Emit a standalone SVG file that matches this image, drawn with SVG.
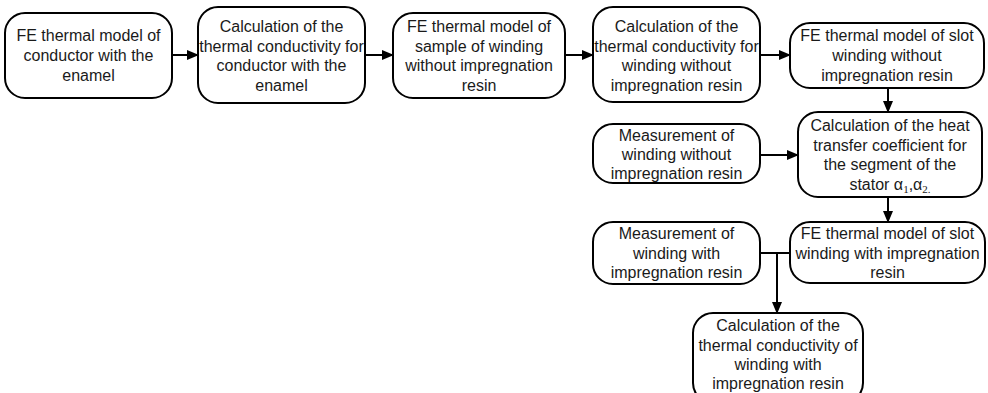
<svg xmlns="http://www.w3.org/2000/svg" width="988" height="393" viewBox="0 0 988 393">
<defs>
<marker id="ah" markerWidth="12" markerHeight="10" refX="11" refY="5" orient="auto" markerUnits="userSpaceOnUse">
<path d="M0,0 L12,5 L0,10 Z" fill="#000"/>
</marker>
<style>
.box{fill:#fff;stroke:#000;stroke-width:2}
.t{font-family:"Liberation Sans",Arial,sans-serif;font-size:16px;fill:#1a1a1a;text-anchor:middle}
.c{fill:none;stroke:#000;stroke-width:2}
.s{font-family:"Liberation Serif","Times New Roman",serif;font-size:11px}
</style>
</defs>
<rect width="988" height="393" fill="#fff"/>
<g id="n1"><rect class="box" x="5" y="13" width="167" height="85" rx="20"/>
<text class="t"><tspan x="88.5" y="41">FE thermal model of</tspan><tspan x="88.5" y="61">conductor with the</tspan><tspan x="88.5" y="81">enamel</tspan></text></g>
<g id="n2"><rect class="box" x="198" y="7" width="167" height="96" rx="20"/>
<text class="t"><tspan x="281.5" y="32">Calculation of the</tspan><tspan x="281.5" y="51.5">thermal conductivity for</tspan><tspan x="281.5" y="71">conductor with the</tspan><tspan x="281.5" y="90.5">enamel</tspan></text></g>
<g id="n3"><rect class="box" x="393" y="13" width="172" height="85" rx="20"/>
<text class="t"><tspan x="479" y="32">FE thermal model of</tspan><tspan x="479" y="51.5">sample of winding</tspan><tspan x="479" y="71">without impregnation</tspan><tspan x="479" y="90.5">resin</tspan></text></g>
<g id="n4"><rect class="box" x="593" y="7" width="167" height="95" rx="20"/>
<text class="t"><tspan x="676.5" y="32">Calculation of the</tspan><tspan x="676.5" y="51.5">thermal conductivity for</tspan><tspan x="676.5" y="71">winding without</tspan><tspan x="676.5" y="90.5">impregnation resin</tspan></text></g>
<g id="n5"><rect class="box" x="790" y="23" width="194" height="65" rx="20"/>
<text class="t"><tspan x="887" y="41">FE thermal model of slot</tspan><tspan x="887" y="61">winding without</tspan><tspan x="887" y="81">impregnation resin</tspan></text></g>
<g id="n6"><rect class="box" x="798" y="112" width="184" height="85" rx="20"/>
<text class="t"><tspan x="890" y="131">Calculation of the heat</tspan><tspan x="890" y="150.5">transfer coefficient for</tspan><tspan x="890" y="170">the segment of the</tspan><tspan x="890" y="189.5">stator α<tspan class="s" dy="3">1</tspan><tspan dy="-3">,α</tspan><tspan class="s" dy="3">2.</tspan></tspan></text></g>
<g id="n7"><rect class="box" x="593" y="124" width="167" height="59" rx="20"/>
<text class="t"><tspan x="676.5" y="141">Measurement of</tspan><tspan x="676.5" y="160">winding without</tspan><tspan x="676.5" y="179">impregnation resin</tspan></text></g>
<g id="n8"><rect class="box" x="790" y="222" width="195" height="61" rx="20"/>
<text class="t"><tspan x="887.5" y="239">FE thermal model of slot</tspan><tspan x="887.5" y="259">winding with impregnation</tspan><tspan x="887.5" y="278">resin</tspan></text></g>
<g id="n9"><rect class="box" x="593" y="222" width="167" height="62" rx="20"/>
<text class="t"><tspan x="676.5" y="239">Measurement of</tspan><tspan x="676.5" y="259">winding with</tspan><tspan x="676.5" y="278">impregnation resin</tspan></text></g>
<g id="n10"><rect class="box" x="693" y="313" width="170" height="90" rx="20"/>
<text class="t"><tspan x="778" y="331">Calculation of the</tspan><tspan x="778" y="351">thermal conductivity of</tspan><tspan x="778" y="370">winding with</tspan><tspan x="778" y="389">impregnation resin</tspan></text></g>
<g id="connectors">
<line class="c" x1="172" y1="55" x2="198" y2="55" marker-end="url(#ah)"/>
<line class="c" x1="365" y1="55" x2="393" y2="55" marker-end="url(#ah)"/>
<line class="c" x1="565" y1="55" x2="593" y2="55" marker-end="url(#ah)"/>
<line class="c" x1="760" y1="55" x2="790" y2="55" marker-end="url(#ah)"/>
<line class="c" x1="888" y1="88" x2="888" y2="112" marker-end="url(#ah)"/>
<line class="c" x1="760" y1="155" x2="798" y2="155" marker-end="url(#ah)"/>
<line class="c" x1="888" y1="197" x2="888" y2="222" marker-end="url(#ah)"/>
<line class="c" x1="760" y1="253" x2="790" y2="253"/>
<line class="c" x1="777" y1="253" x2="777" y2="313" marker-end="url(#ah)"/>
</g>
</svg>
